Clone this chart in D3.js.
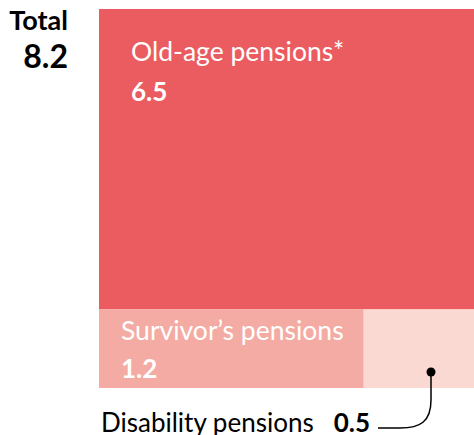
<!DOCTYPE html>
<html>
<head>
<meta charset="utf-8">
<script src="https://cdn.jsdelivr.net/npm/d3@7"></script>
<style>
  body { margin: 0; background: #fff; }
  svg { display: block; font-family: Lato, "Open Sans", sans-serif; }
</style>
</head>
<body>
<svg width="474" height="435"></svg>
<script>
var categories = ["Old-age pensions*", "Survivor\u2019s pensions", "Disability pensions"];
var values = [6.5, 1.2, 0.5];
var colors = ["#ea5c5f", "#f4aba3", "#fbd9d3"];
var total = 8.2;

var svg = d3.select("svg");

var x0 = 99, x1 = 474, y0 = 9, y1 = 388;

// vertical split: old-age on top, the rest in the bottom row
var y = d3.scaleLinear().domain([0, total]).range([y0, y1]);
var rest = values[1] + values[2];
var x = d3.scaleLinear().domain([0, rest]).range([x0, x1]);

var yMid = y(values[0]);

var cells = [
  { name: categories[0], value: values[0], color: colors[0], x0: x0, x1: x1, y0: y0, y1: yMid },
  { name: categories[1], value: values[1], color: colors[1], x0: x(0), x1: x(values[1]), y0: yMid, y1: y1 },
  { name: categories[2], value: values[2], color: colors[2], x0: x(values[1]), x1: x(rest), y0: yMid, y1: y1 }
];

svg.selectAll("rect.cell")
  .data(cells)
  .join("rect")
  .attr("class", "cell")
  .attr("x", function(d) { return d.x0; })
  .attr("y", function(d) { return d.y0; })
  .attr("width", function(d) { return d.x1 - d.x0; })
  .attr("height", function(d) { return d.y1 - d.y0; })
  .attr("fill", function(d) { return d.color; });

var old = cells[0], surv = cells[1], dis = cells[2];

svg.append("text")
  .attr("x", old.x0 + 32).attr("y", old.y0 + 52)
  .attr("fill", "#fff").attr("font-size", 26.5)
  .text(old.name);
svg.append("text")
  .attr("x", old.x0 + 32).attr("y", old.y0 + 92)
  .attr("fill", "#fff").attr("font-size", 26).attr("font-weight", "bold")
  .text(old.value.toFixed(1));

svg.append("text")
  .attr("x", surv.x0 + 22).attr("y", yMid + 31)
  .attr("fill", "#fff").attr("font-size", 26.5)
  .text(surv.name);
svg.append("text")
  .attr("x", surv.x0 + 22).attr("y", yMid + 69)
  .attr("fill", "#fff").attr("font-size", 26).attr("font-weight", "bold")
  .text(surv.value.toFixed(1));

// total
svg.append("text")
  .attr("x", 68).attr("y", 30)
  .attr("text-anchor", "end").attr("font-size", 27).attr("font-weight", "bold")
  .text("Total");
svg.append("text")
  .attr("x", 68).attr("y", 68)
  .attr("text-anchor", "end").attr("font-size", 32).attr("font-weight", "bold")
  .text(total.toFixed(1));

// disability callout
var dotX = x1 - 43, dotY = y1 - 16;
svg.append("circle")
  .attr("cx", dotX).attr("cy", dotY).attr("r", 4.5).attr("fill", "#000");

var path = d3.path();
path.moveTo(dotX, dotY);
path.lineTo(dotX, 400);
path.bezierCurveTo(dotX, 422, 420, 428, 400, 428);
path.lineTo(378, 428);
svg.append("path")
  .attr("d", path.toString())
  .attr("fill", "none").attr("stroke", "#000").attr("stroke-width", 1.5);

var dt = svg.append("text")
  .attr("x", 101).attr("y", 432)
  .attr("font-size", 26).attr("fill", "#000");
dt.append("tspan").text(dis.name);
dt.append("tspan").attr("dx", 20).attr("font-weight", "bold").text(dis.value.toFixed(1));
</script>
</body>
</html>
